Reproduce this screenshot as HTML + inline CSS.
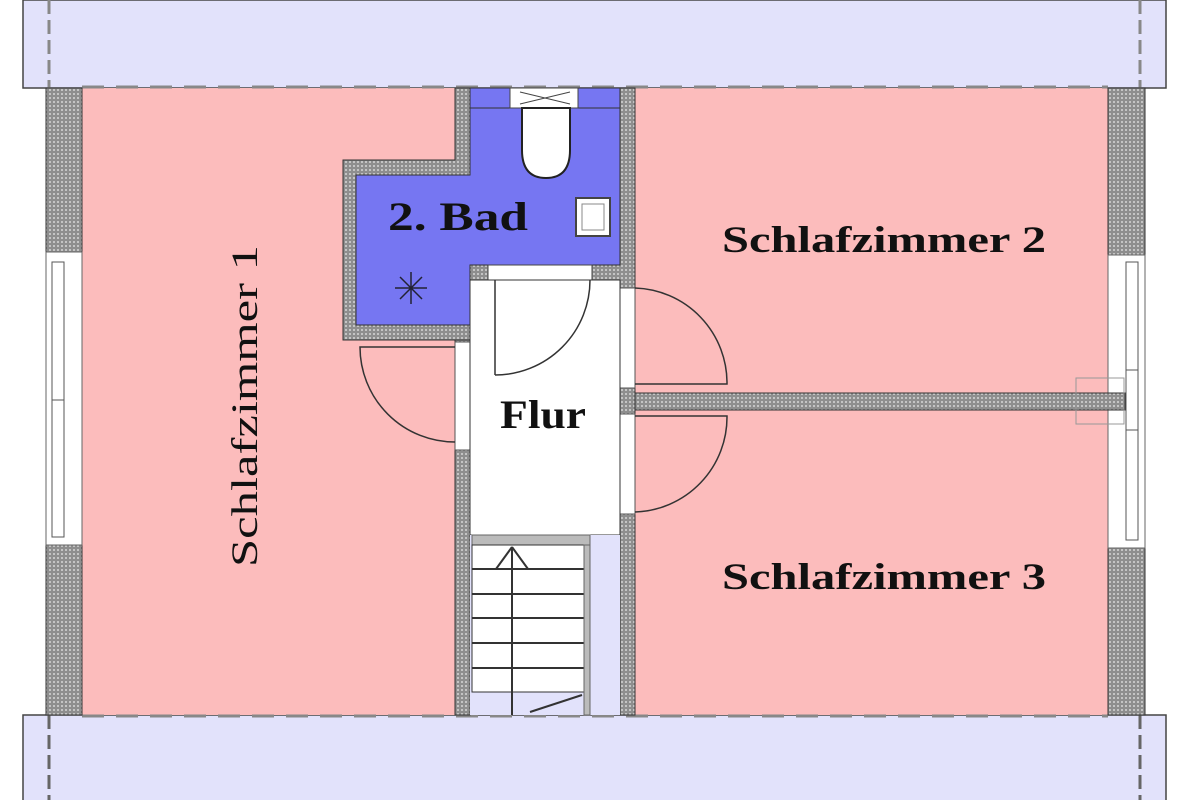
<!DOCTYPE html>
<html><head><meta charset="utf-8"><style>
html,body{margin:0;padding:0;background:#fff;width:1200px;height:800px;overflow:hidden}
svg{display:block}
text{font-family:"Liberation Serif",serif;fill:#111;font-weight:bold}
</style></head><body>
<svg width="1200" height="800" viewBox="0 0 1200 800" xmlns="http://www.w3.org/2000/svg">
<defs>
<pattern id="w" width="4" height="4" patternUnits="userSpaceOnUse">
<rect width="4" height="4" fill="#8e8e8e"/><rect x="1" y="1" width="2" height="2" fill="#c4c4c4"/>
</pattern>
</defs>
<rect x="23" y="0" width="1143" height="88" fill="#e2e2fb" stroke="#444" stroke-width="1.5"/>
<rect x="23" y="715" width="1143" height="90" fill="#e2e2fb" stroke="#444" stroke-width="1.5"/>
<line x1="49" y1="0" x2="49" y2="88" stroke="#888" stroke-width="3" stroke-dasharray="14,6"/>
<line x1="1140" y1="0" x2="1140" y2="88" stroke="#888" stroke-width="3" stroke-dasharray="14,6"/>
<line x1="49" y1="715" x2="49" y2="800" stroke="#666" stroke-width="3" stroke-dasharray="14,6"/>
<line x1="1140" y1="715" x2="1140" y2="800" stroke="#666" stroke-width="3" stroke-dasharray="14,6"/>
<rect x="82" y="88" width="1026" height="627" fill="#fcbcbc"/>
<line x1="82" y1="87" x2="1108" y2="87" stroke="#888" stroke-width="3" stroke-dasharray="22,12"/>
<line x1="82" y1="716" x2="1108" y2="716" stroke="#888" stroke-width="3" stroke-dasharray="22,12"/>
<rect x="46" y="88" width="36" height="164" fill="url(#w)" stroke="#333"/>
<rect x="46" y="545" width="36" height="170" fill="url(#w)" stroke="#333"/>
<rect x="46" y="252" width="36" height="293" fill="#fff" stroke="#666"/>
<rect x="52" y="262" width="12" height="275" fill="none" stroke="#555"/>
<line x1="52" y1="400" x2="64" y2="400" stroke="#555"/>
<rect x="1108" y="88" width="37" height="167" fill="url(#w)" stroke="#333"/>
<rect x="1108" y="548" width="37" height="167" fill="url(#w)" stroke="#333"/>
<rect x="1108" y="255" width="37" height="293" fill="#fff" stroke="#666"/>
<rect x="1126" y="262" width="12" height="278" fill="none" stroke="#555"/>
<line x1="1126" y1="370" x2="1138" y2="370" stroke="#555"/><line x1="1126" y1="430" x2="1138" y2="430" stroke="#555"/>
<path d="M343 160 H455 V88 H635 V715 H620 V280 H470 V340 H343 Z" fill="url(#w)" stroke="#333"/>
<rect x="455" y="340" width="15" height="375" fill="url(#w)" stroke="#333"/>
<path d="M470 88 H620 V265 H470 V325 H356 V175 H470 Z" fill="#7676f2" stroke="#333"/>
<line x1="470" y1="108" x2="620" y2="108" stroke="#333"/>
<rect x="510" y="88" width="68" height="20" fill="#fff" stroke="#444"/>
<path d="M520 92 L570 104 M520 104 L570 92" stroke="#444" fill="none"/>
<path d="M522 108 V150 Q522 178 546 178 Q570 178 570 150 V108 Z" fill="#fff" stroke="#222" stroke-width="2"/>
<rect x="576" y="198" width="34" height="38" fill="#fff" stroke="#444" stroke-width="2"/>
<rect x="582" y="204" width="22" height="26" fill="#fff" stroke="#888"/>
<g stroke="#223" stroke-width="1.5"><line x1="395" y1="288" x2="427" y2="288"/><line x1="411" y1="272" x2="411" y2="304"/><line x1="400" y1="277" x2="422" y2="299"/><line x1="422" y1="277" x2="400" y2="299"/></g>
<text x="388" y="230" font-size="40" textLength="140" lengthAdjust="spacingAndGlyphs">2. Bad</text>
<rect x="488" y="265" width="104" height="15" fill="#fff" stroke="#444"/>
<rect x="455" y="342" width="15" height="108" fill="#fff" stroke="#555"/>
<rect x="620" y="288" width="15" height="100" fill="#fff" stroke="#555"/>
<rect x="620" y="414" width="15" height="100" fill="#fff" stroke="#555"/>
<rect x="470" y="280" width="150" height="255" fill="#fff" stroke="#333"/>
<text x="500" y="428" font-size="40" textLength="86" lengthAdjust="spacingAndGlyphs">Flur</text>
<g fill="none" stroke="#333" stroke-width="1.5">
<path d="M495 280 V375 M495 375 A95 95 0 0 0 590 280"/>
<path d="M455 347 H360 A95 95 0 0 0 455 442"/>
<path d="M635 288 A95 95 0 0 1 727 384 H635"/>
<path d="M635 512 A95 95 0 0 0 727 416 H635"/>
</g>
<rect x="635" y="393" width="490" height="17" fill="url(#w)" stroke="#333"/>
<rect x="1076" y="378" width="48" height="46" fill="none" stroke="#999"/>
<rect x="470" y="535" width="150" height="180" fill="#e2e2fb"/>
<rect x="472" y="535" width="118" height="10" fill="#bbb" stroke="#666"/>
<rect x="472" y="545" width="112" height="147" fill="#fff" stroke="#333"/>
<g stroke="#333" stroke-width="2"><line x1="472" y1="569" x2="584" y2="569"/><line x1="472" y1="594" x2="584" y2="594"/><line x1="472" y1="618" x2="584" y2="618"/><line x1="472" y1="643" x2="584" y2="643"/><line x1="472" y1="668" x2="584" y2="668"/><line x1="512" y1="547" x2="512" y2="715"/><line x1="512" y1="547" x2="496" y2="569"/><line x1="512" y1="547" x2="528" y2="569"/><line x1="530" y1="712" x2="582" y2="695"/></g>
<rect x="584" y="545" width="6" height="170" fill="#bbb" stroke="#666"/>
<text transform="translate(257,406) rotate(-90)" font-size="37" font-weight="normal" text-anchor="middle" textLength="322" lengthAdjust="spacingAndGlyphs" style="font-weight:normal">Schlafzimmer 1</text>
<text x="722" y="252" font-size="37" textLength="324" lengthAdjust="spacingAndGlyphs">Schlafzimmer 2</text>
<text x="722" y="589" font-size="37" textLength="324" lengthAdjust="spacingAndGlyphs">Schlafzimmer 3</text>
</svg>
</body></html>
